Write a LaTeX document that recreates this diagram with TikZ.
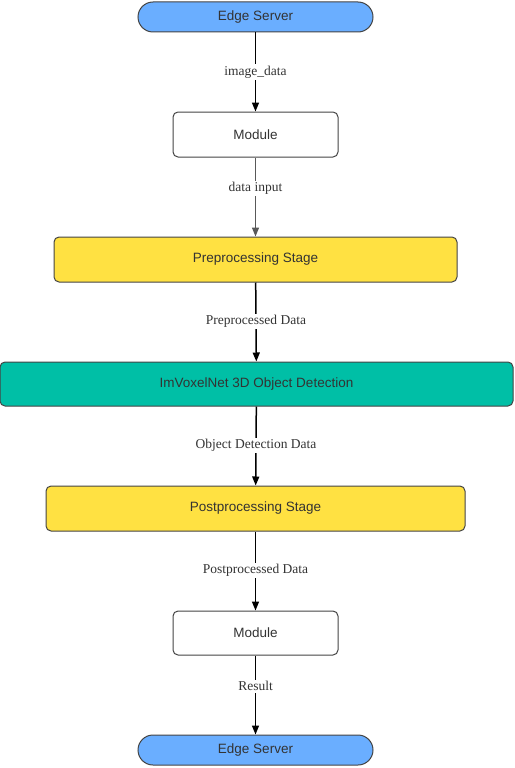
\documentclass[tikz,border=0pt]{standalone}
\usepackage{fontspec}
\setmainfont{Liberation Sans}
\newfontfamily\lblfont{Liberation Serif}
\usetikzlibrary{arrows.meta}
\definecolor{edgeblue}{HTML}{6AAEFF}
\definecolor{stageyellow}{HTML}{FFE142}
\definecolor{tealc}{HTML}{00BFA6}
\definecolor{bordc}{HTML}{444444}
\definecolor{txtc}{HTML}{333333}
\begin{document}
\begin{tikzpicture}[x=1pt,y=-1pt,
  box/.style={draw=bordc,line width=1pt,rounded corners=5pt,font=\fontsize{13.5}{16}\selectfont,text=txtc,inner sep=0pt},
  pill/.style={box,fill=edgeblue,rounded corners=15pt,minimum width=235pt,minimum height=30pt},
  modbox/.style={box,fill=white,minimum width=165pt,minimum height=45pt},
  stagebox/.style={box,fill=stageyellow,minimum height=45pt},
  lbl/.style={fill=white,inner sep=1.5pt,font=\lblfont\fontsize{13.5}{16}\selectfont,text=black!80},
  arr/.style={-{Triangle[length=9pt,width=7pt]},line width=1.5pt,black}
]
\useasboundingbox (0,0) rectangle (514,768);
\node[pill] (es1) at (255.5,17) {Edge Server};
\node[modbox] (m1) at (255.5,134.5) {Module};
\node[stagebox,minimum width=403pt] (pre) at (255.5,259.5) {Preprocessing Stage};
\node[box,fill=tealc,minimum width=513pt,minimum height=44pt] (imv) at (256.5,384) {ImVoxelNet 3D Object Detection};
\node[stagebox,minimum width=419pt] (post) at (255.5,508.5) {Postprocessing Stage};
\node[modbox,minimum height=44pt] (m2) at (255.5,633) {Module};
\node[pill] (es2) at (255.5,750) {Edge Server};

\draw[arr] (es1) -- node[lbl,pos=0.5] {image\_data} (m1);
\draw[arr,draw=black!65,line width=1.2pt] (m1) -- node[lbl,pos=0.39] {data input} (pre);
\draw[arr] (pre) -- node[lbl,pos=0.49] {Preprocessed Data} (imv);
\draw[arr] (imv) -- node[lbl,pos=0.49] {Object Detection Data} (post);
\draw[arr] (post) -- node[lbl,pos=0.49] {Postprocessed Data} (m2);
\draw[arr] (m2) -- node[lbl,pos=0.39] {Result} (es2);
\end{tikzpicture}
\end{document}
